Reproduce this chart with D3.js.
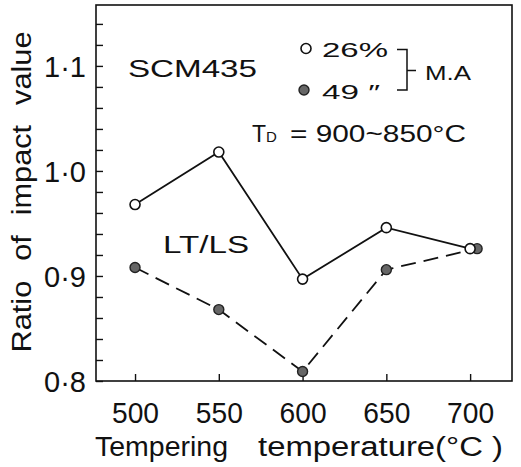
<!DOCTYPE html>
<html>
<head>
<meta charset="utf-8">
<script src="https://cdn.jsdelivr.net/npm/d3@7"></script>
<style>
  html, body { margin: 0; padding: 0; background: #fff; }
  svg { display: block; }
  text { font-family: "Liberation Sans", Arial, sans-serif; fill: #111; }
</style>
</head>
<body>
<svg id="chart" width="521" height="467"></svg>
<script>
// Tempering temperature (°C)
const temps = [500, 550, 600, 650, 700];
// Ratio of impact value LT/LS, M.A 26 %
const ratio26 = [0.968, 1.018, 0.897, 0.946, 0.926];
// Ratio of impact value LT/LS, M.A 49 %
const ratio49 = [0.908, 0.868, 0.809, 0.906, 0.926];

const xTicks = [500, 550, 600, 650, 700];
const yMajor = [0.8, 0.9, 1.0, 1.1];
const yMinor = d3.range(0, 18).map(i => +(0.8 + i * 0.02).toFixed(2));
const yTickLabels = ["0·8", "0·9", "1·0", "1·1"];

const svg = d3.select("#chart");
const frame = { left: 96, top: 5, right: 512, bottom: 381 };

const x = d3.scaleLinear().domain([476.7, 725]).range([frame.left, frame.right]);
const y = d3.scaleLinear().domain([0.8, 1.158]).range([frame.bottom, frame.top]);

// frame box
svg.append("rect")
  .attr("x", frame.left).attr("y", frame.top)
  .attr("width", frame.right - frame.left).attr("height", frame.bottom - frame.top)
  .attr("fill", "none").attr("stroke", "#111").attr("stroke-width", 1.6);

// y axis: inward ticks every 0.02, labels at 0.1
const yAxis = svg.append("g")
  .attr("transform", `translate(${frame.left},0)`)
  .call(d3.axisLeft(y).tickValues(yMinor).tickSize(-7).tickPadding(10)
    .tickFormat(d => {
      const i = yMajor.findIndex(v => Math.abs(v - d) < 1e-6);
      return i >= 0 ? yTickLabels[i] : "";
    }));
yAxis.select(".domain").remove();
yAxis.selectAll("line").attr("stroke", "#111").attr("stroke-width", 1.4);
yAxis.selectAll("text").attr("font-size", 29).attr("dy", "0.36em")
  .style("font-family", "'Liberation Sans', Arial, sans-serif").attr("fill", "#111");

// x axis: inward ticks
const xAxis = svg.append("g")
  .attr("transform", `translate(0,${frame.bottom})`)
  .call(d3.axisBottom(x).tickValues(xTicks).tickSize(-7).tickFormat(d3.format("d")));
xAxis.select(".domain").remove();
xAxis.selectAll("line").attr("stroke", "#111").attr("stroke-width", 1.4);
xAxis.selectAll("text").attr("font-size", 29).attr("y", 42).attr("dy", 0)
  .style("font-family", "'Liberation Sans', Arial, sans-serif").attr("fill", "#111")
  .attr("textLength", 47).attr("lengthAdjust", "spacingAndGlyphs");

// axis titles
svg.append("text")
  .attr("transform", "translate(31,192) rotate(-90)")
  .attr("text-anchor", "middle").attr("font-size", 27)
  .style("word-spacing", "10px")
  .attr("textLength", 321).attr("lengthAdjust", "spacingAndGlyphs")
  .text("Ratio of impact value");

svg.append("text")
  .attr("x", 95).attr("y", 456).attr("font-size", 27)
  .attr("textLength", 133).attr("lengthAdjust", "spacingAndGlyphs")
  .text("Tempering");
svg.append("text")
  .attr("x", 258).attr("y", 456).attr("font-size", 27)
  .attr("textLength", 245).attr("lengthAdjust", "spacingAndGlyphs")
  .text("temperature(°C )");

// series lines
const overlapShift = 7; // pushes a coinciding filled marker sideways
const pts49 = temps.map((t, i) => ({
  px: x(t) + (ratio49[i] === ratio26[i] ? overlapShift : 0),
  py: y(ratio49[i])
}));
const pts26 = temps.map((t, i) => ({ px: x(t), py: y(ratio26[i]) }));

const line = d3.line().x(d => d.px).y(d => d.py);

svg.append("path").datum(pts49)
  .attr("d", line).attr("fill", "none")
  .attr("stroke", "#111").attr("stroke-width", 1.8)
  .attr("stroke-dasharray", "15,8");

svg.append("path").datum(pts26)
  .attr("d", line).attr("fill", "none")
  .attr("stroke", "#111").attr("stroke-width", 1.8);

const r = 5;
svg.append("g").selectAll("circle").data(pts49).join("circle")
  .attr("cx", d => d.px).attr("cy", d => d.py).attr("r", r)
  .attr("fill", "#666").attr("stroke", "#222").attr("stroke-width", 1.4);

svg.append("g").selectAll("circle").data(pts26).join("circle")
  .attr("cx", d => d.px).attr("cy", d => d.py).attr("r", r)
  .attr("fill", "#fff").attr("stroke", "#111").attr("stroke-width", 1.6);

// annotations
svg.append("text").attr("x", 128).attr("y", 77).attr("font-size", 24)
  .attr("textLength", 129).attr("lengthAdjust", "spacingAndGlyphs").text("SCM435");

svg.append("text").attr("x", 163).attr("y", 253).attr("font-size", 23)
  .attr("textLength", 86).attr("lengthAdjust", "spacingAndGlyphs").text("LT/LS");

// legend
svg.append("circle").attr("cx", 306).attr("cy", 48.5).attr("r", r)
  .attr("fill", "#fff").attr("stroke", "#111").attr("stroke-width", 1.6);
svg.append("circle").attr("cx", 304).attr("cy", 90).attr("r", r)
  .attr("fill", "#666").attr("stroke", "#222").attr("stroke-width", 1.4);

svg.append("text").attr("x", 322).attr("y", 57).attr("font-size", 20)
  .attr("textLength", 66).attr("lengthAdjust", "spacingAndGlyphs").text("26%");
svg.append("text").attr("x", 322).attr("y", 99).attr("font-size", 20)
  .attr("textLength", 58).attr("lengthAdjust", "spacingAndGlyphs").text("49 \u2033");

// bracket joining the two legend rows
svg.append("path")
  .attr("d", "M397,49.5 H407 V90 H397 M407,70.5 H416")
  .attr("fill", "none").attr("stroke", "#111").attr("stroke-width", 1.5);
svg.append("text").attr("x", 425).attr("y", 79.5).attr("font-size", 21)
  .attr("textLength", 46).attr("lengthAdjust", "spacingAndGlyphs").text("M.A");

// austenitising temperature note, one text element
const td = svg.append("text").attr("x", 252).attr("y", 141.5).attr("font-size", 23);
td.append("tspan").text("T");
td.append("tspan").attr("font-size", 15).text("D");
td.append("tspan").attr("x", 290).attr("textLength", 176)
  .attr("lengthAdjust", "spacingAndGlyphs").text("= 900~850°C");
</script>
</body>
</html>
